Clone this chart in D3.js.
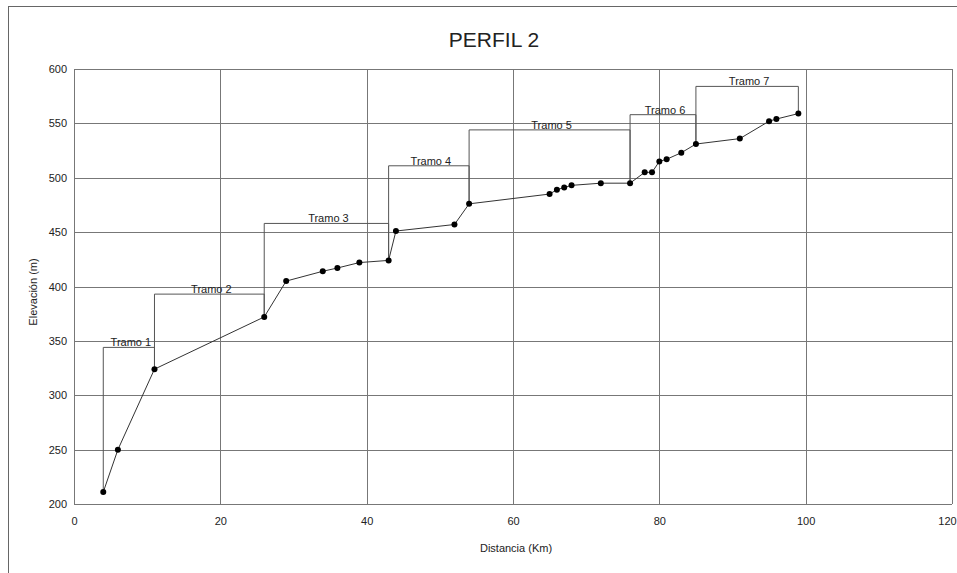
<!DOCTYPE html>
<html>
<head>
<meta charset="utf-8">
<script src="https://cdn.jsdelivr.net/npm/d3@7"></script>
<style>
  body { margin: 0; background: #fff; }
  text { font-family: "Liberation Sans", Arial, sans-serif; fill: #222; }
</style>
</head>
<body>
<div id="chart"></div>
<script>
// data
var distancia = [4, 6, 11, 26, 29, 34, 36, 39, 43, 44, 52, 54, 65, 66, 67, 68, 72, 76, 78, 79, 80, 81, 83, 85, 91, 95, 96, 99];
var elevacion = [211, 250, 324, 372, 405, 414, 417, 422, 424, 451, 457, 476, 485, 489, 491, 493, 495, 495, 505, 505, 515, 517, 523, 531, 536, 552, 554, 559];

// tramos: index of start point, index of end point, bracket level
var tramoNames = ["Tramo 1", "Tramo 2", "Tramo 3", "Tramo 4", "Tramo 5", "Tramo 6", "Tramo 7"];
var tramoStart = [0, 2, 3, 8, 11, 17, 23];
var tramoEnd   = [2, 3, 8, 11, 17, 23, 27];
var tramoLevel = [344, 393, 458, 511, 544, 558, 584];

var xTicks = [0, 20, 40, 60, 80, 100, 120];
var yTicks = [200, 250, 300, 350, 400, 450, 500, 550, 600];

var svgWidth = 957;
var svgHeight = 573;

var margin = { top: 69, right: 5, bottom: 69, left: 74 };
var width = 952 - margin.left;
var height = 504 - margin.top;

var svg = d3.select("#chart")
  .append("svg")
  .attr("width", svgWidth)
  .attr("height", svgHeight);

// outer frame
svg.append("rect")
  .attr("x", 8.5).attr("y", 6.5)
  .attr("width", 960).attr("height", 600)
  .attr("fill", "none")
  .attr("stroke", "#666")
  .attr("stroke-width", 1);

var chartGroup = svg.append("g")
  .attr("transform", `translate(${margin.left}, ${margin.top})`);

var x = d3.scaleLinear().domain([0, 120]).range([0, width]);
var y = d3.scaleLinear().domain([200, 600]).range([height, 0]);

// grid
chartGroup.selectAll(".vgrid")
  .data(xTicks)
  .enter()
  .append("line")
  .attr("x1", d => Math.round(x(d)) + 0.5)
  .attr("x2", d => Math.round(x(d)) + 0.5)
  .attr("y1", 0)
  .attr("y2", height)
  .attr("stroke", "#777");

chartGroup.selectAll(".hgrid")
  .data(yTicks)
  .enter()
  .append("line")
  .attr("x1", 0)
  .attr("x2", width)
  .attr("y1", d => Math.round(y(d)) + 0.5)
  .attr("y2", d => Math.round(y(d)) + 0.5)
  .attr("stroke", "#777");

chartGroup.append("line")
  .attr("x1", 0.5).attr("x2", 0.5)
  .attr("y1", 0).attr("y2", height)
  .attr("stroke", "#777");

// axes (labels only)
var bottomAxis = d3.axisBottom(x).tickValues(xTicks).tickSize(0).tickPadding(13);
var leftAxis = d3.axisLeft(y).tickValues(yTicks).tickSize(0).tickPadding(7);

var gx = chartGroup.append("g")
  .attr("transform", `translate(0, ${height})`)
  .call(bottomAxis);
var gy = chartGroup.append("g").call(leftAxis);

[gx, gy].forEach(function(g) {
  g.select(".domain").remove();
  g.selectAll("text")
    .attr("font-size", "11px")
    .attr("font-family", "'Liberation Sans', Arial, sans-serif")
    .attr("fill", "#333");
});
// last label sits at the page edge
gx.selectAll("text").filter(d => d === 120).attr("dx", -5);

// tramo brackets
tramoNames.forEach(function(name, i) {
  var s = tramoStart[i], e = tramoEnd[i];
  var pts = [
    [distancia[s], elevacion[s]],
    [distancia[s], tramoLevel[i]],
    [distancia[e], tramoLevel[i]],
    [distancia[e], elevacion[e]]
  ];
  chartGroup.append("path")
    .attr("d", d3.line().x(d => x(d[0])).y(d => y(d[1]))(pts))
    .attr("fill", "none")
    .attr("stroke", "#555")
    .attr("stroke-width", 1);

  chartGroup.append("text")
    .attr("x", (x(distancia[s]) + x(distancia[e])) / 2 + 2)
    .attr("y", y(tramoLevel[i]) - 1)
    .attr("text-anchor", "middle")
    .attr("font-size", "11px")
    .text(name);
});

// profile line
var data = distancia.map((d, i) => ({ x: d, y: elevacion[i] }));

chartGroup.append("path")
  .datum(data)
  .attr("d", d3.line().x(d => x(d.x)).y(d => y(d.y)))
  .attr("fill", "none")
  .attr("stroke", "#333")
  .attr("stroke-width", 1);

chartGroup.selectAll("circle")
  .data(data)
  .enter()
  .append("circle")
  .attr("cx", d => x(d.x))
  .attr("cy", d => y(d.y))
  .attr("r", 3)
  .attr("fill", "#000");

// titles
svg.append("text")
  .attr("x", 494)
  .attr("y", 47)
  .attr("text-anchor", "middle")
  .attr("font-size", "21px")
  .text("PERFIL 2");

svg.append("text")
  .attr("x", 516)
  .attr("y", 552)
  .attr("text-anchor", "middle")
  .attr("font-size", "11px")
  .text("Distancia (Km)");

svg.append("text")
  .attr("transform", "translate(37, 292) rotate(-90)")
  .attr("text-anchor", "middle")
  .attr("font-size", "11px")
  .text("Elevación (m)");
</script>
</body>
</html>
